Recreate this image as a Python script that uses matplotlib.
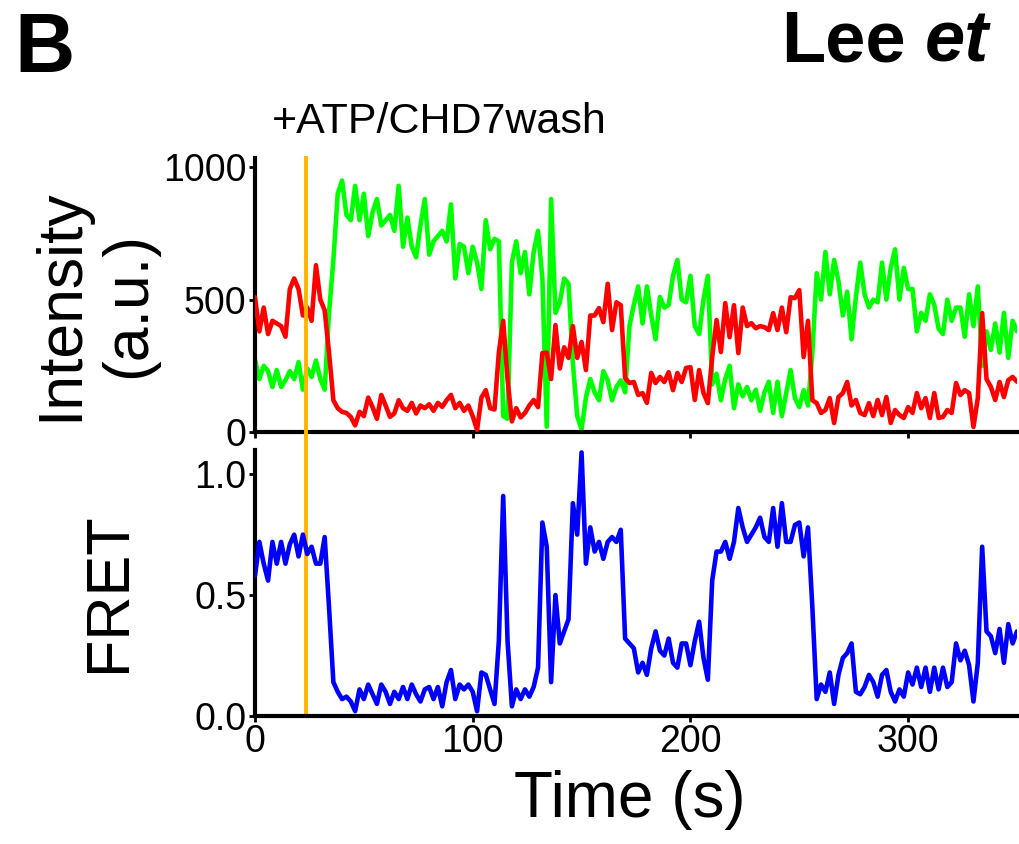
import numpy as np
import matplotlib
matplotlib.use("Agg")
import matplotlib.pyplot as plt

plt.rcParams['font.family'] = ['Liberation Sans', 'DejaVu Sans']

# time axis, one frame every 2 s
time_s = np.arange(0, 352, 2)

# donor (green) and acceptor (red) intensity, a.u.
green = [
    272, 200, 250, 230, 170, 234, 170, 196, 230, 200,
    264, 160, 240, 208, 270, 200, 160, 450, 650, 900,
    950, 820, 800, 930, 800, 900, 740, 830, 880, 780,
    800, 820, 760, 930, 700, 810, 700, 660, 780, 880,
    670, 720, 740, 760, 720, 860, 580, 710, 700, 600,
    700, 640, 540, 800, 690, 730, 720, 60, 50, 640,
    720, 600, 680, 520, 680, 760, 580, 20, 880, 450,
    490, 580, 560, 260, 60, 10, 130, 200, 150, 120,
    230, 195, 120, 170, 195, 150, 400, 480, 550, 410,
    550, 440, 350, 510, 470, 480, 590, 650, 500, 490,
    590, 400, 370, 500, 590, 180, 220, 120, 200, 250,
    90, 180, 135, 170, 120, 160, 80, 150, 190, 72,
    190, 60, 147, 234, 128, 94, 158, 100, 300, 600,
    500, 680, 520, 650, 570, 440, 530, 350, 510, 640,
    520, 470, 500, 490, 640, 500, 620, 690, 500, 620,
    540, 540, 380, 450, 420, 520, 480, 390, 370, 500,
    420, 470, 470, 360, 520, 400, 550, 250, 380, 310,
    410, 300, 450, 280, 420, 380,
]
red = [
    509, 380, 470, 370, 420, 410, 400, 360, 540, 580,
    540, 440, 470, 420, 630, 500, 460, 300, 120, 90,
    76, 72, 57, 25, 76, 60, 130, 94, 50, 140,
    100, 57, 70, 120, 90, 80, 110, 70, 100, 90,
    105, 80, 110, 95, 120, 140, 90, 110, 80, 100,
    60, 8, 130, 158, 90, 85, 300, 420, 200, 40,
    90, 55, 72, 100, 121, 94, 298, 300, 200, 404,
    240, 320, 280, 400, 280, 340, 234, 440, 440, 468,
    415, 560, 385, 490, 479, 204, 185, 189, 140, 147,
    110, 223, 185, 208, 189, 226, 158, 223, 189, 242,
    245, 121, 234, 147, 109, 283, 423, 302, 487, 358,
    479, 298, 470, 400, 411, 392, 400, 396, 385, 449,
    385, 470, 377, 509, 506, 536, 283, 420, 120, 109,
    72, 83, 128, 34, 132, 147, 189, 100, 121, 72,
    64, 109, 60, 121, 64, 132, 34, 83, 64, 53,
    94, 72, 147, 90, 128, 53, 147, 53, 57, 83,
    72, 185, 140, 158, 147, 19, 128, 449, 200, 170,
    121, 189, 132, 196, 208, 190,
]
fret = [
    0.58, 0.72, 0.63, 0.56, 0.72, 0.63, 0.72, 0.63, 0.71, 0.75,
    0.66, 0.75, 0.67, 0.70, 0.63, 0.63, 0.74, 0.45, 0.14, 0.10,
    0.07, 0.08, 0.06, 0.02, 0.11, 0.07, 0.13, 0.09, 0.05, 0.13,
    0.10, 0.05, 0.10, 0.07, 0.12, 0.07, 0.13, 0.09, 0.06, 0.11,
    0.12, 0.07, 0.12, 0.04, 0.14, 0.19, 0.07, 0.13, 0.11, 0.13,
    0.10, 0.02, 0.18, 0.17, 0.11, 0.05, 0.31, 0.91, 0.31, 0.04,
    0.11, 0.07, 0.11, 0.08, 0.12, 0.20, 0.80, 0.70, 0.14, 0.50,
    0.30, 0.35, 0.40, 0.88, 0.75, 1.09, 0.63, 0.78, 0.68, 0.72,
    0.65, 0.72, 0.74, 0.72, 0.77, 0.32, 0.30, 0.28, 0.18, 0.22,
    0.17, 0.28, 0.35, 0.27, 0.25, 0.32, 0.22, 0.20, 0.30, 0.30,
    0.21, 0.31, 0.39, 0.24, 0.15, 0.56, 0.68, 0.68, 0.72, 0.65,
    0.72, 0.86, 0.78, 0.72, 0.75, 0.78, 0.82, 0.74, 0.72, 0.86,
    0.70, 0.88, 0.72, 0.72, 0.79, 0.80, 0.66, 0.78, 0.45, 0.07,
    0.13, 0.10, 0.18, 0.05, 0.17, 0.24, 0.26, 0.30, 0.10, 0.09,
    0.12, 0.17, 0.14, 0.08, 0.17, 0.19, 0.10, 0.06, 0.11, 0.08,
    0.18, 0.13, 0.20, 0.12, 0.20, 0.10, 0.20, 0.11, 0.20, 0.12,
    0.14, 0.30, 0.23, 0.27, 0.21, 0.06, 0.22, 0.70, 0.35, 0.33,
    0.26, 0.36, 0.22, 0.38, 0.30, 0.35,
]

wash_time = 23.5
wash_label = "+ATP/CHD7wash"

W, H = 1020, 844
fig = plt.figure(figsize=(W / 100, H / 100), dpi=100)

left = 255 / W
width = 762 / W
ax_top = fig.add_axes([left, 1 - 432 / H, width, (432 - 158) / H])
ax_bot = fig.add_axes([left, 1 - 716 / H, width, (716 - 450) / H])

style = dict(lw=3.3, solid_joinstyle="round", solid_capstyle="round")
ax_top.plot(time_s, green, color="#00ff00", zorder=2, **style)
ax_top.plot(time_s, red, color="#ff0000", zorder=3, **style)
ax_bot.plot(time_s, fret, color="#0000ff", zorder=3, **style)

ax_top.set_ylim(0, 1035)
ax_bot.set_ylim(0, 1.1)
for ax in (ax_top, ax_bot):
    ax.set_xlim(0, 350)
    ax.set_xticks([0, 100, 200, 300])
    for s in ("top", "right"):
        ax.spines[s].set_visible(False)
    for s in ("left", "bottom"):
        ax.spines[s].set_linewidth(3)
    ax.tick_params(direction="out", length=4, width=2, pad=2, labelsize=27)
    ax.set_facecolor("none")

ax_top.set_yticks([0, 500, 1000])
ax_top.tick_params(axis="x", labelbottom=False)
ax_bot.set_yticks([0, 0.5, 1.0])
ax_bot.set_yticklabels(["0.0", "0.5", "1.0"])

# wash marker spanning both panels
ax_bot.axvline(wash_time, ymin=0, ymax=(716 - 158) / (716 - 450),
               color="#ffb400", lw=2.8, clip_on=False, zorder=1)

fig.text(272 / W, 1 - 122 / H, wash_label, fontsize=31, ha="left", va="center")
fig.text(95 / W, 1 - 305 / H, "Intensity\n(a.u.)", fontsize=45, rotation=90,
         ha="center", va="center", linespacing=1.2)
fig.text(110 / W, 1 - 592 / H, "FRET", fontsize=44, rotation=90,
         ha="center", va="center")
fig.text(630 / W, 1 - 800 / H, "Time (s)", fontsize=46, ha="center", va="center")

fig.text(14 / W, 1 - 50 / H, "B", fontsize=60, fontweight="bold",
         ha="left", va="center")
fig.text(781 / W, 1 - 42 / H, "Lee", fontsize=52, fontweight="bold",
         ha="left", va="center")
fig.text(925 / W, 1 - 42 / H, "et", fontsize=52, fontweight="bold",
         fontstyle="italic", ha="left", va="center")

fig.savefig("out.png", dpi=100)
